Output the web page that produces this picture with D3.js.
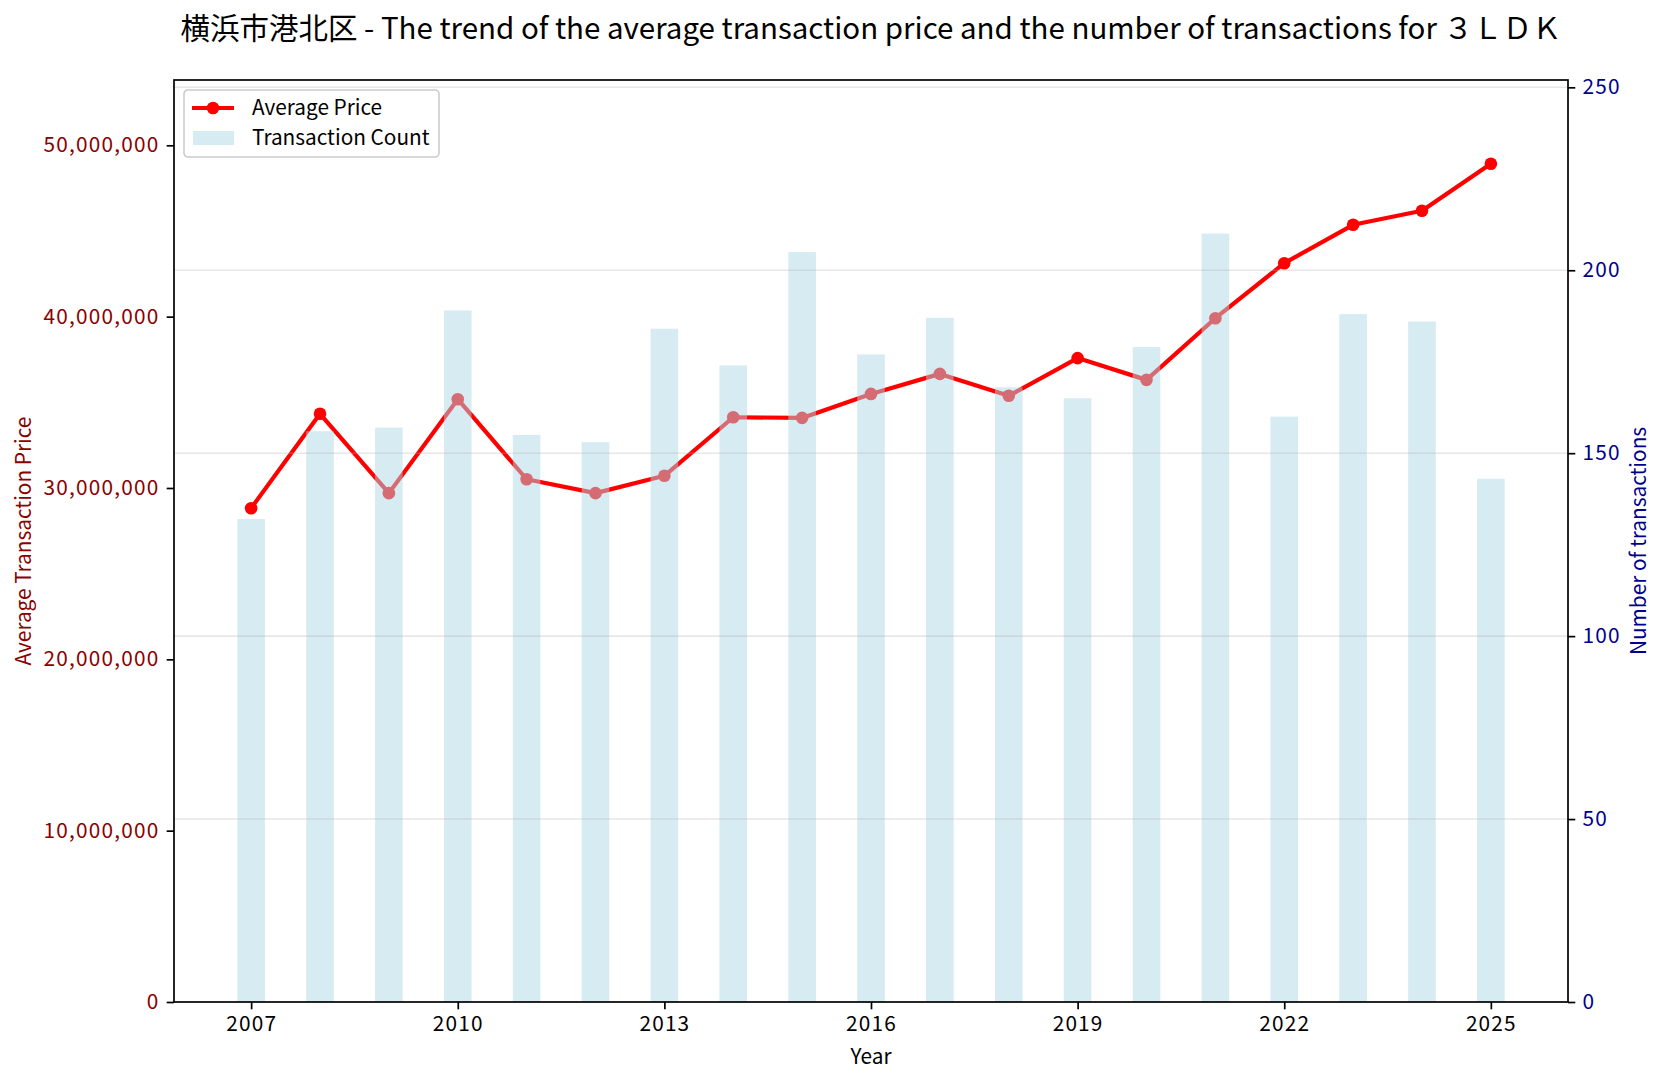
<!DOCTYPE html>
<html>
<head>
<meta charset="utf-8">
<script src="https://cdn.jsdelivr.net/npm/d3@7"></script>
<style>
  body { margin: 0; background: #fff; }
  svg { font-family: "Noto Sans CJK JP", "Noto Sans", sans-serif; }
</style>
</head>
<body>
<div id="chart"></div>
<script>
// data
const years = [2007, 2008, 2009, 2010, 2011, 2012, 2013, 2014, 2015, 2016,
               2017, 2018, 2019, 2020, 2021, 2022, 2023, 2024, 2025];
const avgPrice = [28820000, 34330000, 29700000, 35180000, 30510000, 29700000, 30710000,
                  34130000, 34090000, 35490000, 36660000, 35380000, 37580000, 36310000,
                  39910000, 43120000, 45360000, 46180000, 48920000];
const txCount = [132, 156, 157, 189, 155, 153, 184, 174, 205, 177,
                 187, 168, 165, 179, 210, 160, 188, 186, 143];
const xTicks = [2007, 2010, 2013, 2016, 2019, 2022, 2025];
const priceTicks = [0, 10000000, 20000000, 30000000, 40000000, 50000000];
const countTicks = [0, 50, 100, 150, 200, 250];

const titleText = '横浜市港北区 - The trend of the average transaction price and the number of transactions for ３ＬＤＫ';

const width = 1666, height = 1082;
const margin = { top: 80, right: 98, bottom: 80, left: 174 };
const innerW = width - margin.left - margin.right;
const innerH = height - margin.top - margin.bottom;

const fontSize = 20.8;
const tickLen = 7.3, tickPad = 7.3;

const svg = d3.select('#chart').append('svg')
  .attr('width', width)
  .attr('height', height);

const g = svg.append('g')
  .attr('transform', `translate(${margin.left},${margin.top})`);

// scales
const barW = 0.4;
const span = (years[years.length - 1] - years[0]) + barW;
const x = d3.scaleLinear()
  .domain([years[0] - barW / 2 - span * 0.05, years[years.length - 1] + barW / 2 + span * 0.05])
  .range([0, innerW]);

const yPrice = d3.scaleLinear()
  .domain([0, d3.max(avgPrice) * 1.1])
  .range([innerH, 0]);

const yCount = d3.scaleLinear()
  .domain([0, d3.max(txCount) * 1.2])
  .range([innerH, 0]);

// price line (ax1, drawn below the bars)
const pts = years.map((yr, i) => ({ year: yr, v: avgPrice[i] }));
const line = d3.line().x(d => x(d.year)).y(d => yPrice(d.v));

g.append('path')
  .datum(pts)
  .attr('fill', 'none')
  .attr('stroke', '#ff0000')
  .attr('stroke-width', 4.2)
  .attr('stroke-linejoin', 'round')
  .attr('d', line);

g.selectAll('.pt')
  .data(pts)
  .enter()
  .append('circle')
  .attr('class', 'pt')
  .attr('cx', d => x(d.year))
  .attr('cy', d => yPrice(d.v))
  .attr('r', 6.3)
  .attr('fill', '#ff0000');

// count bars (ax2, on top)
const bars = years.map((yr, i) => ({ year: yr, v: txCount[i] }));
const bw = x(years[0] + barW) - x(years[0]);

g.selectAll('.bar')
  .data(bars)
  .enter()
  .append('rect')
  .attr('class', 'bar')
  .attr('x', d => x(d.year) - bw / 2)
  .attr('y', d => yCount(d.v))
  .attr('width', bw)
  .attr('height', d => innerH - yCount(d.v))
  .attr('fill', '#add8e6')
  .attr('fill-opacity', 0.5);

// grid from right axis
g.selectAll('.grid')
  .data(countTicks.slice(1))
  .enter()
  .append('line')
  .attr('class', 'grid')
  .attr('x1', 0)
  .attr('x2', innerW)
  .attr('y1', d => yCount(d))
  .attr('y2', d => yCount(d))
  .attr('stroke', '#b0b0b0')
  .attr('stroke-opacity', 0.3)
  .attr('stroke-width', 1.6);

// axes
const fmt = d3.format(',');

const xAxis = g.append('g')
  .attr('transform', `translate(0,${innerH})`)
  .call(d3.axisBottom(x).tickValues(xTicks).tickFormat(d3.format('d'))
    .tickSize(tickLen).tickPadding(tickPad));

const yAxisL = g.append('g')
  .call(d3.axisLeft(yPrice).tickValues(priceTicks).tickFormat(fmt)
    .tickSize(tickLen).tickPadding(tickPad));

const yAxisR = g.append('g')
  .attr('transform', `translate(${innerW},0)`)
  .call(d3.axisRight(yCount).tickValues(countTicks)
    .tickSize(tickLen).tickPadding(tickPad));

[xAxis, yAxisL, yAxisR].forEach(a => {
  a.select('.domain').remove();
  a.selectAll('.tick line').attr('stroke', '#000').attr('stroke-width', 1.7);
  a.selectAll('.tick text')
    .style('font-size', fontSize + 'px')
    .style('letter-spacing', '1.2px');
  a.attr('font-family', null);
});
xAxis.selectAll('.tick text').attr('fill', '#000');
yAxisL.selectAll('.tick text').attr('fill', '#8b0000');
yAxisR.selectAll('.tick text').attr('fill', '#00008b');

// frame
g.append('rect')
  .attr('width', innerW)
  .attr('height', innerH)
  .attr('fill', 'none')
  .attr('stroke', '#000')
  .attr('stroke-width', 1.7);

// axis labels
g.append('text')
  .attr('x', innerW / 2)
  .attr('y', innerH + 62)
  .attr('text-anchor', 'middle')
  .style('font-size', fontSize + 'px')
  .text('Year');

g.append('text')
  .attr('transform', 'rotate(-90)')
  .attr('x', -innerH / 2)
  .attr('y', -margin.left + 31)
  .attr('text-anchor', 'middle')
  .attr('fill', '#8b0000')
  .style('font-size', fontSize + 'px')
  .text('Average Transaction Price');

g.append('text')
  .attr('transform', 'rotate(-90)')
  .attr('x', -innerH / 2)
  .attr('y', innerW + 78)
  .attr('text-anchor', 'middle')
  .attr('fill', '#00008b')
  .style('font-size', fontSize + 'px')
  .text('Number of transactions');

// title
svg.append('text')
  .attr('x', margin.left + innerW / 2)
  .attr('y', 39)
  .attr('text-anchor', 'middle')
  .style('font-size', '29.5px')
  .text(titleText);

// legend
const lg = g.append('g').attr('transform', 'translate(10,10)');
lg.append('rect')
  .attr('width', 255)
  .attr('height', 67)
  .attr('rx', 4)
  .attr('fill', '#fff')
  .attr('fill-opacity', 0.8)
  .attr('stroke', '#cccccc')
  .attr('stroke-width', 1.6);

lg.append('line')
  .attr('x1', 8).attr('x2', 50)
  .attr('y1', 18).attr('y2', 18)
  .attr('stroke', '#ff0000')
  .attr('stroke-width', 4.2);
lg.append('circle')
  .attr('cx', 29).attr('cy', 18).attr('r', 6.3)
  .attr('fill', '#ff0000');
lg.append('rect')
  .attr('x', 9).attr('y', 41)
  .attr('width', 41).attr('height', 14)
  .attr('fill', '#add8e6')
  .attr('fill-opacity', 0.5);

lg.append('text')
  .attr('x', 68).attr('y', 18)
  .attr('dy', '0.35em')
  .style('font-size', fontSize + 'px')
  .text('Average Price');
lg.append('text')
  .attr('x', 68).attr('y', 48)
  .attr('dy', '0.35em')
  .style('font-size', fontSize + 'px')
  .text('Transaction Count');
</script>
</body>
</html>
